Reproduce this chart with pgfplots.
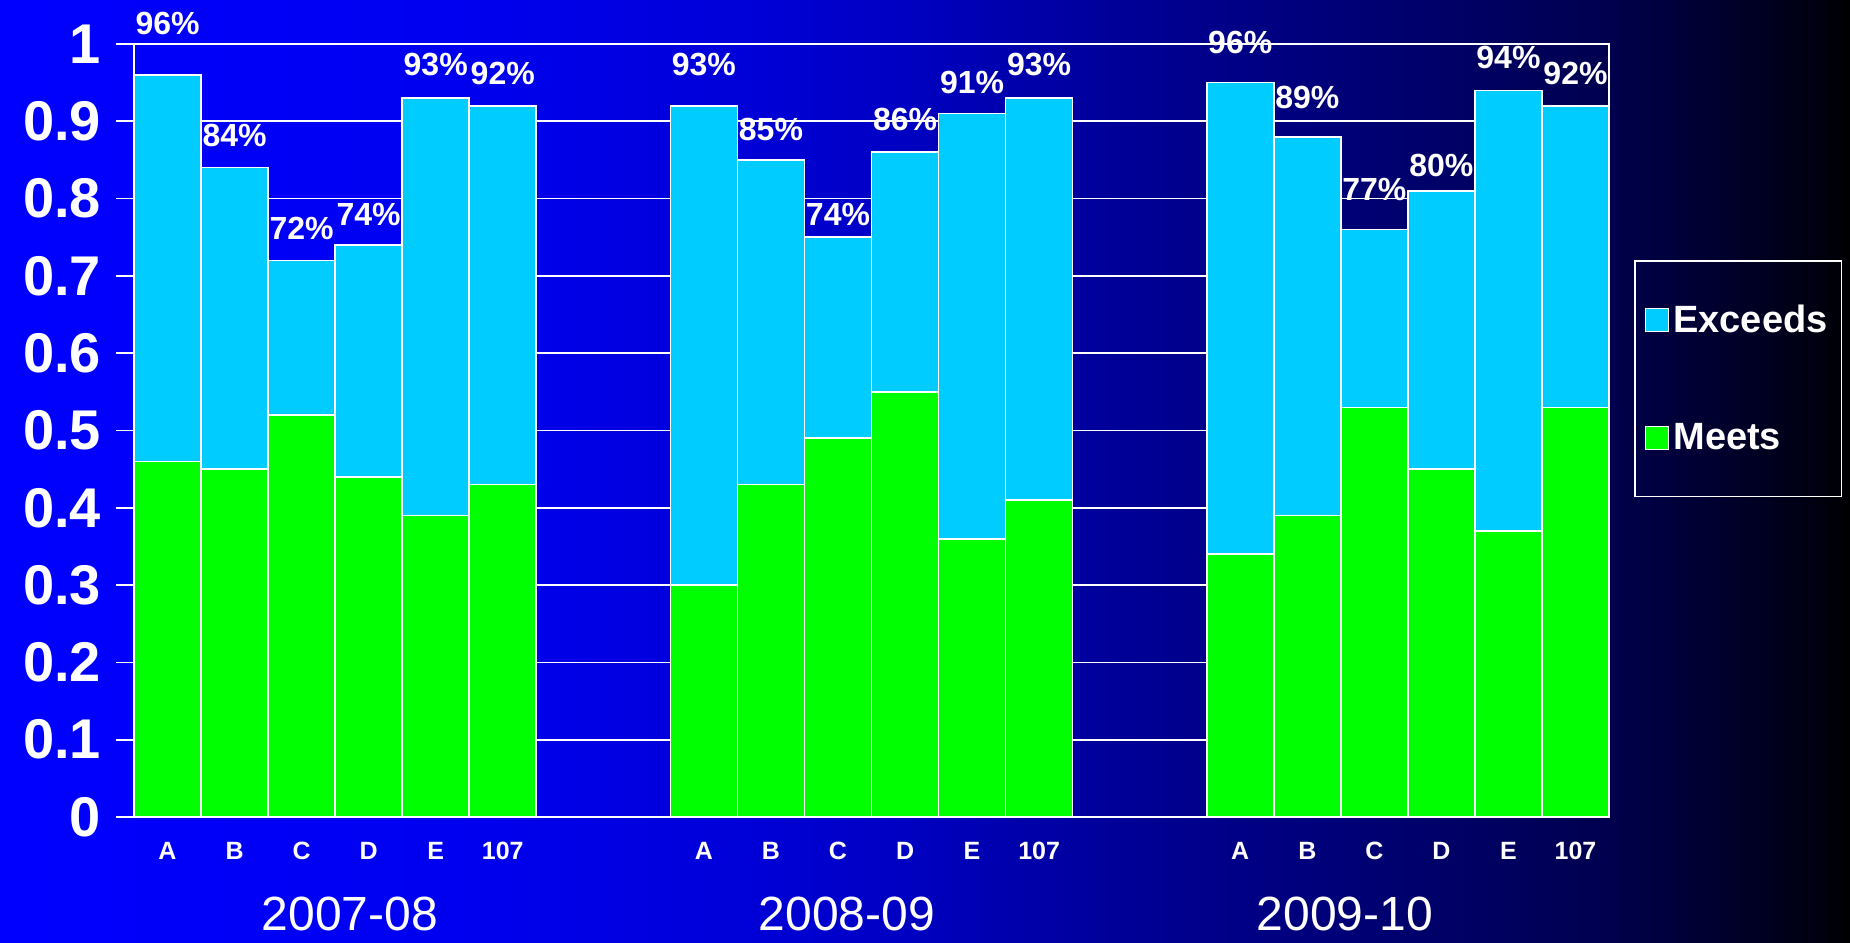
\documentclass[border=0pt]{standalone}
\usepackage{pgfplots}
\pgfplotsset{compat=1.18}
\usepackage{fontspec}
\setmainfont{Liberation Sans}
\definecolor{bga}{RGB}{0,0,255}
\definecolor{bgb}{RGB}{0,0,240}
\definecolor{bgc}{RGB}{0,0,215}
\definecolor{bgd}{RGB}{0,0,195}
\definecolor{bge}{RGB}{0,0,150}
\definecolor{bgf}{RGB}{0,0,125}
\definecolor{bgg}{RGB}{0,0,80}
\definecolor{bgh}{RGB}{0,0,16}
\definecolor{bgi}{RGB}{0,0,0}
\pgfdeclarehorizontalshading{bgshade}{100bp}{color(0bp)=(bga); color(25bp)=(bga); color(37.15bp)=(bgb); color(45.25bp)=(bgc); color(49.3bp)=(bgd); color(55.45bp)=(bge); color(60.15bp)=(bgf); color(68.25bp)=(bgg); color(74.2bp)=(bgh); color(75bp)=(bgi); color(100bp)=(bgi)}
\definecolor{exc}{RGB}{0,204,255}
\definecolor{mee}{RGB}{0,255,0}

\pgfplotstableread{
x   meets exceeds
0   0.46  0.50
1   0.45  0.39
2   0.52  0.20
3   0.44  0.30
4   0.39  0.54
5   0.43  0.49
8   0.30  0.62
9   0.43  0.42
10  0.49  0.26
11  0.55  0.31
12  0.36  0.55
13  0.41  0.52
16  0.34  0.61
17  0.39  0.49
18  0.53  0.23
19  0.45  0.36
20  0.37  0.57
21  0.53  0.39
}\datatable

\begin{document}
\begin{tikzpicture}
\useasboundingbox (0,0) rectangle (925pt,471pt);
\shade[shading=bgshade] (0,0) rectangle (925pt,471pt);
\begin{axis}[
  at={(67pt,62.5pt)}, anchor=south west,
  scale only axis, width=737.5pt, height=386.5pt,
  xmin=-0.5, xmax=21.5, ymin=0, ymax=1,
  ybar stacked, bar width=1,
  axis line style={white, line width=0.9pt},
  ytick={0,0.1,0.2,0.3,0.4,0.5,0.6,0.7,0.8,0.9,1},
  ymajorgrids, major grid style={white, line width=0.8pt},
  tick pos=left,
  tick align=outside, major tick length=9pt, minor tick length=4pt,
  tick style={white, line width=0.8pt},
  /pgf/number format/assume math mode=true,
  yticklabel style={font=\fontsize{28}{28}\selectfont\bfseries, text=white, xshift=-4pt},
  xtick={0,1,2,3,4,5,8,9,10,11,12,13,16,17,18,19,20,21},
  xticklabels={A,B,C,D,E,107,A,B,C,D,E,107,A,B,C,D,E,107},
  xtick style={draw=none},
  minor xtick={-0.5,0.5,1.5,2.5,3.5,4.5,5.5,6.5,7.5,8.5,9.5,10.5,11.5,12.5,13.5,14.5,15.5,16.5,17.5,18.5,19.5,20.5,21.5},
  xticklabel style={font=\fontsize{12.5}{13}\selectfont\bfseries, text=white},
  legend image code/.code={\draw[#1,draw=white,line width=0.8pt] (0pt,-5.75pt) rectangle (11.5pt,5.75pt);},
  reverse legend,
  legend cell align=left,
  legend style={at={(1.0169,0.7206)}, anchor=north west, draw=white, line width=0.8pt, fill=none,
    text=white, font=\fontsize{19}{19}\selectfont\bfseries,
    inner xsep=5pt, inner ysep=20pt, row sep=40pt,
    /tikz/every even column/.append style={column sep=12pt}},
]
\addplot[fill=mee, draw=white, line width=0.8pt] table[x=x, y=meets] {\datatable};
\addlegendentry{Meets}
\addplot[fill=exc, draw=white, line width=0.8pt] table[x=x, y=exceeds] {\datatable};
\addlegendentry{Exceeds}
\end{axis}
\begin{axis}[
  at={(67pt,62.5pt)}, anchor=south west,
  scale only axis, width=737.5pt, height=386.5pt,
  xmin=-0.5, xmax=21.5, ymin=0, ymax=1,
  hide axis, clip=false,
]
\addplot[only marks, mark=*, mark size=0pt, mark options={draw=none, fill=none},
  nodes near coords, point meta=explicit symbolic, nodes near coords align=center,
  every node near coord/.style={font=\fontsize{16}{16}\selectfont\bfseries, text=white, inner sep=0pt}]
coordinates {
(0,1.026)[96\%] (1,0.882)[84\%] (2,0.762)[72\%] (3,0.780)[74\%] (4,0.973)[93\%] (5,0.962)[92\%]
(8,0.973)[93\%] (9,0.890)[85\%] (10,0.780)[74\%] (11,0.902)[86\%] (12,0.950)[91\%] (13,0.973)[93\%]
(16,1.002)[96\%] (17,0.931)[89\%] (18,0.812)[77\%] (19,0.843)[80\%] (20,0.983)[94\%] (21,0.962)[92\%]
};
\addplot[only marks, mark=*, mark size=0pt, mark options={draw=none, fill=none},
  nodes near coords, point meta=explicit symbolic, nodes near coords align=center,
  every node near coord/.style={font=\fontsize{24}{24}\selectfont, text=white, inner sep=0pt}]
coordinates {
(2.72,-0.125)[2007-08] (10.13,-0.125)[2008-09] (17.56,-0.125)[2009-10]
};
\end{axis}
\end{tikzpicture}
\end{document}
